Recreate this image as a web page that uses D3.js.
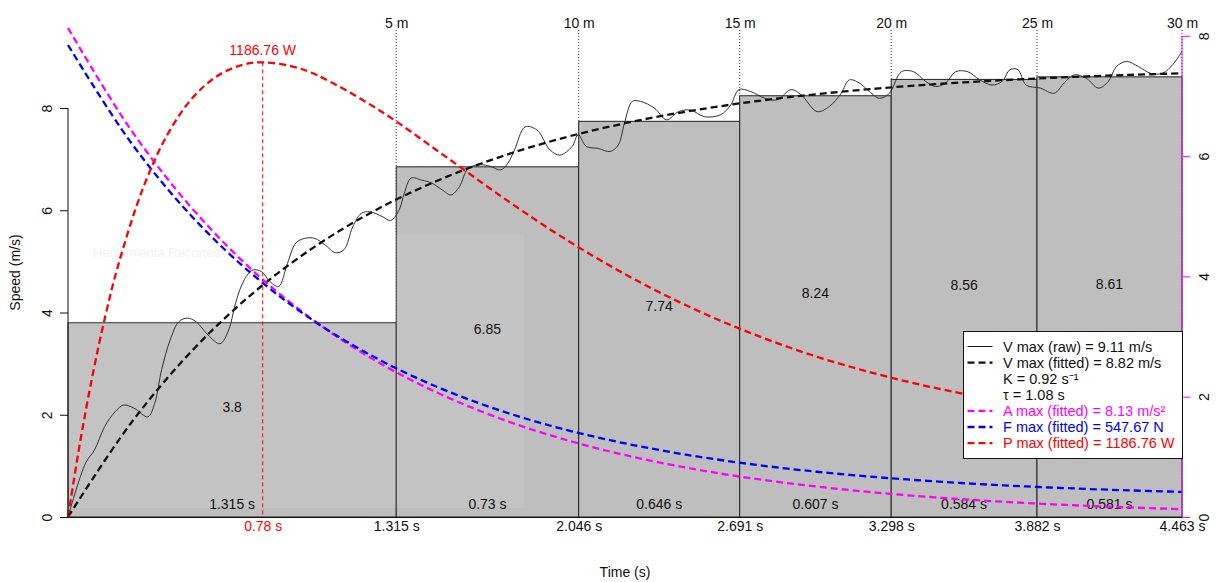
<!DOCTYPE html>
<html>
<head>
<meta charset="utf-8">
<script src="https://cdn.jsdelivr.net/npm/d3@7"></script>
<style>
  body { margin: 0; background: #fff; }
  svg { display: block; font-family: 'Liberation Sans', Arial, sans-serif; }
</style>
</head>
<body>
<script>
/*
 * Sprint profile: 5 m split bars, raw and fitted speed,
 * fitted acceleration, force and power.
 */

// split data (cumulative times at every 5 m)
const splitEnds = [1.315, 2.046, 2.691, 3.298, 3.882, 4.463];
const splitSpeeds = [3.8, 6.85, 7.74, 8.24, 8.56, 8.61];
const splitDurations = ['1.315 s', '0.73 s', '0.646 s', '0.607 s', '0.584 s', '0.581 s'];
const timeTickLabels = ['1.315 s', '2.046 s', '2.691 s', '3.298 s', '3.882 s', '4.463 s'];
const distanceLabels = ['5 m', '10 m', '15 m', '20 m', '25 m', '30 m'];
const speedTicks = [0, 2, 4, 6, 8];
const accelTicks = [0, 2, 4, 6, 8];

// raw speed trace
const rawTime = [0.000, 0.071, 0.106, 0.147, 0.189, 0.223, 0.264, 0.320, 0.347, 0.375,
  0.409, 0.444, 0.478, 0.513, 0.561, 0.609, 0.644, 0.671, 0.706, 0.740,
  0.775, 0.810, 0.844, 0.879, 0.913, 0.948, 0.989, 1.030, 1.072, 1.106,
  1.141, 1.175, 1.209, 1.258, 1.292, 1.327, 1.347, 1.375, 1.417, 1.458,
  1.499, 1.534, 1.568, 1.603, 1.651, 1.692, 1.734, 1.762, 1.789, 1.831,
  1.879, 1.931, 1.971, 2.020, 2.044, 2.076, 2.124, 2.172, 2.205, 2.229,
  2.261, 2.293, 2.349, 2.398, 2.446, 2.494, 2.550, 2.615, 2.655, 2.688,
  2.736, 2.792, 2.841, 2.897, 2.937, 3.001, 3.050, 3.098, 3.130, 3.170,
  3.211, 3.251, 3.291, 3.339, 3.388, 3.436, 3.476, 3.516, 3.556, 3.605,
  3.653, 3.702, 3.742, 3.774, 3.806, 3.838, 3.895, 3.951, 3.991, 4.032,
  4.080, 4.128, 4.168, 4.200, 4.241, 4.289, 4.337, 4.385, 4.426, 4.463];
const rawSpeed = [0.00, 1.06, 1.31, 1.77, 2.06, 2.19, 2.13, 1.96, 2.22, 2.88,
  3.46, 3.82, 3.89, 3.82, 3.56, 3.39, 3.66, 4.18, 4.64, 4.83,
  4.80, 4.60, 4.51, 4.96, 5.36, 5.45, 5.45, 5.32, 5.17, 5.23,
  5.68, 5.94, 5.97, 5.88, 5.80, 6.01, 6.33, 6.63, 6.59, 6.53,
  6.40, 6.30, 6.46, 6.82, 6.89, 6.86, 6.79, 6.92, 7.18, 7.63,
  7.57, 7.18, 7.08, 7.25, 7.48, 7.25, 7.21, 7.15, 7.28, 7.70,
  8.13, 8.13, 8.00, 7.77, 7.93, 7.96, 7.83, 7.87, 8.06, 8.36,
  8.32, 8.19, 8.16, 8.36, 8.26, 7.93, 8.03, 8.29, 8.55, 8.49,
  8.32, 8.19, 8.29, 8.71, 8.71, 8.52, 8.42, 8.49, 8.71, 8.71,
  8.55, 8.45, 8.52, 8.75, 8.75, 8.45, 8.39, 8.29, 8.49, 8.65,
  8.58, 8.39, 8.52, 8.81, 8.91, 8.81, 8.68, 8.68, 8.85, 9.11];

// fitted curves
const fitTime = [0, 0.25, 0.5, 0.75, 1.0, 1.25, 1.5, 1.75, 2.0, 2.25,
  2.5, 2.75, 3.0, 3.25, 3.5, 3.75, 4.0, 4.25, 4.463];
const fitSpeed = [0, 1.822, 3.269, 4.415, 5.325, 6.048, 6.620, 7.075, 7.436, 7.722,
  7.949, 8.129, 8.271, 8.385, 8.475, 8.546, 8.603, 8.648, 8.679];
const fitAccel = [8.13, 6.450, 5.117, 4.060, 3.221, 2.555, 2.028, 1.608, 1.276, 1.012,
  0.803, 0.637, 0.506, 0.401, 0.318, 0.253, 0.200, 0.159, 0.130];
const fitForce = [547.7, 435.4, 347.6, 278.8, 224.6, 182.0, 148.4, 121.8, 100.8, 84.3,
  71.2, 60.8, 52.5, 46.0, 40.8, 36.7, 33.5, 30.9, 29.1];
const powerTime = [0, 0.05, 0.1, 0.15, 0.2, 0.3, 0.4, 0.5, 0.6, 0.7, 0.78, 0.9, 1.0,
  1.25, 1.5, 1.75, 2.0, 2.25, 2.5, 2.75, 3.0, 3.25, 3.5, 3.75, 4.0, 4.25, 4.463];
const fitPower = [0, 200.9, 375.2, 525.7, 654.7, 857.5, 1000.0, 1094.7, 1151.8, 1180.4,
  1186.76, 1175.7, 1152.5, 1060.5, 946.6, 830.3, 722.2, 627.2, 545.3, 476.2, 418.4,
  371.6, 333.2, 302.2, 277.7, 257.5, 243.4];

const peakPowerTime = 0.78;
const peakPower = 1186.76;

const legendLabels = [
  'V max (raw) = 9.11 m/s',
  'V max (fitted) = 8.82 m/s',
  'K = 0.92 s\u207B\u00B9',
  '\u03C4 = 1.08 s',
  'A max (fitted) = 8.13 m/s\u00B2',
  'F max (fitted) = 547.67 N',
  'P max (fitted) = 1186.76 W'
];
const legendColors = ['#111', '#111', '#111', '#111', '#ff00ff', '#0000ff', '#ff0000'];
const legendLines = ['solid', 'dashed', null, null, 'dashed', 'dashed', 'dashed'];

/*
 * Layout
 */

const W = 1216;
const H = 582;
const plotLeft = 68;
const plotRight = 1182;
const plotTop = 28;
const plotBottom = 517;
const DASH = '7,4';

const x = d3.scaleLinear().domain([0, 4.463]).range([plotLeft, plotRight]);
const ySpeed = d3.scaleLinear().domain([0, 9.11 * 1.05]).range([plotBottom, plotTop]);
const yAccel = d3.scaleLinear().domain([0, 8.13]).range([plotBottom, plotTop]);
const yForce = d3.scaleLinear().domain([0, 567.4]).range([plotBottom, plotTop]);
const yPower = d3.scaleLinear().domain([0, 1276.3]).range([plotBottom, plotTop]);

const svg = d3.select('body')
  .append('svg')
    .attr('width', W)
    .attr('height', H)
    .attr('font-size', 14);

// dotted distance markers
svg.append('g')
  .selectAll('line')
  .data(splitEnds)
  .join('line')
    .attr('x1', d => x(d))
    .attr('x2', d => x(d))
    .attr('y1', 30)
    .attr('y2', plotBottom)
    .attr('stroke', '#333')
    .attr('stroke-dasharray', '1,2');

// split bars
const starts = [0, ...splitEnds.slice(0, -1)];
svg.append('g')
  .selectAll('rect')
  .data(splitSpeeds)
  .join('rect')
    .attr('x', (d, i) => x(starts[i]))
    .attr('y', d => ySpeed(d))
    .attr('width', (d, i) => x(splitEnds[i]) - x(starts[i]))
    .attr('height', d => ySpeed(0) - ySpeed(d))
    .attr('fill', '#bebebe')
    .attr('stroke', '#222');

// screenshot ghost (faint overlay left on the original)
svg.append('rect')
    .attr('x', 57).attr('y', 234)
    .attr('width', 467).attr('height', 274)
    .attr('fill', '#fff').attr('opacity', 0.08);
svg.append('text')
    .attr('x', 93).attr('y', 257)
    .attr('font-size', 13)
    .attr('fill', '#000').attr('opacity', 0.05)
    .text('Herramienta Recortes');

// bar labels
const barLabels = svg.append('g').attr('fill', '#111').attr('text-anchor', 'middle');
barLabels.selectAll('text.speed')
  .data(splitSpeeds)
  .join('text')
    .attr('class', 'speed')
    .attr('x', (d, i) => (x(starts[i]) + x(splitEnds[i])) / 2)
    .attr('y', d => ySpeed(d / 2) - 8)
    .text(d => String(d));
barLabels.selectAll('text.dur')
  .data(splitDurations)
  .join('text')
    .attr('class', 'dur')
    .attr('x', (d, i) => (x(starts[i]) + x(splitEnds[i])) / 2)
    .attr('y', 509)
    .text(d => d);

/*
 * Curves
 */

const curve = (ts, vs, yScale) => d3.line()
    .x(d => x(d[0]))
    .y(d => yScale(d[1]))
    .curve(d3.curveCatmullRom.alpha(0.5))(d3.zip(ts, vs));

svg.append('path')
    .attr('d', curve(rawTime, rawSpeed, ySpeed))
    .attr('fill', 'none')
    .attr('stroke', '#333')
    .attr('stroke-width', 1);

svg.append('path')
    .attr('d', curve(fitTime, fitSpeed, ySpeed))
    .attr('fill', 'none')
    .attr('stroke', '#111')
    .attr('stroke-width', 2.3)
    .attr('stroke-dasharray', DASH);

svg.append('path')
    .attr('d', curve(fitTime, fitAccel, yAccel))
    .attr('fill', 'none')
    .attr('stroke', '#ff00ff')
    .attr('stroke-width', 2.3)
    .attr('stroke-dasharray', DASH);

svg.append('path')
    .attr('d', curve(fitTime, fitForce, yForce))
    .attr('fill', 'none')
    .attr('stroke', '#0000ff')
    .attr('stroke-width', 2.3)
    .attr('stroke-dasharray', DASH);

svg.append('path')
    .attr('d', curve(powerTime, fitPower, yPower))
    .attr('fill', 'none')
    .attr('stroke', '#ff0000')
    .attr('stroke-width', 2.3)
    .attr('stroke-dasharray', DASH);

// peak power marker
svg.append('line')
    .attr('x1', x(peakPowerTime)).attr('x2', x(peakPowerTime))
    .attr('y1', yPower(peakPower)).attr('y2', plotBottom)
    .attr('stroke', '#ff0000')
    .attr('stroke-width', 1)
    .attr('stroke-dasharray', '4,3');
svg.append('text')
    .attr('x', x(peakPowerTime))
    .attr('y', 55)
    .attr('text-anchor', 'middle')
    .attr('fill', '#ff0000')
    .text(`${peakPower} W`);

/*
 * Axes
 */

// bottom time axis
svg.append('g')
    .attr('transform', `translate(0, ${plotBottom})`)
    .call(d3.axisBottom(x)
      .tickValues([peakPowerTime, ...splitEnds])
      .tickSize(0)
      .tickPadding(4)
      .tickFormat((d, i) => i === 0 ? `${peakPowerTime} s` : timeTickLabels[i - 1]))
    .attr('font-size', null)
    .attr('font-family', null)
    .call(g => g.select('.domain').attr('stroke', '#111'))
    .call(g => g.selectAll('.tick text')
      .attr('fill', (d, i) => i === 0 ? '#ff0000' : '#111'));

// top distance axis
svg.append('g')
    .attr('transform', `translate(0, ${plotTop})`)
    .call(d3.axisTop(x)
      .tickValues(splitEnds)
      .tickSize(0)
      .tickPadding(0)
      .tickFormat((d, i) => distanceLabels[i]))
    .attr('font-size', null)
    .attr('font-family', null)
    .call(g => g.select('.domain').remove())
    .call(g => g.selectAll('.tick text').attr('fill', '#111'));

// left speed axis
svg.append('g')
    .attr('transform', `translate(${plotLeft}, 0)`)
    .call(d3.axisLeft(ySpeed).tickValues(speedTicks).tickSize(8).tickSizeOuter(0))
    .attr('font-size', null)
    .attr('font-family', null)
    .call(g => g.select('.domain')
      .attr('d', `M0,${ySpeed(8)}V${ySpeed(0)}`)
      .attr('stroke', '#111'))
    .call(g => g.selectAll('.tick line').attr('stroke', '#111'))
    .call(g => g.selectAll('.tick text')
      .attr('transform', 'rotate(-90)')
      .attr('x', 0).attr('y', -16).attr('dy', 0)
      .attr('text-anchor', 'middle')
      .attr('fill', '#111'));

// right acceleration axis
svg.append('g')
    .attr('transform', `translate(${plotRight}, 0)`)
    .call(d3.axisRight(yAccel).tickValues(accelTicks).tickSize(8).tickSizeOuter(0))
    .attr('font-size', null)
    .attr('font-family', null)
    .call(g => g.select('.domain')
      .attr('d', `M0,${yAccel(8)}V${yAccel(0)}`)
      .attr('stroke', '#ff00ff'))
    .call(g => g.selectAll('.tick line').attr('stroke', '#ff00ff'))
    .call(g => g.selectAll('.tick text')
      .attr('transform', 'rotate(-90)')
      .attr('x', 0).attr('y', 27).attr('dy', 0)
      .attr('text-anchor', 'middle')
      .attr('fill', '#111'));

// axis titles
svg.append('text')
    .attr('transform', `translate(20, ${(plotTop + plotBottom) / 2}) rotate(-90)`)
    .attr('text-anchor', 'middle')
    .attr('fill', '#111')
    .text('Speed (m/s)');
svg.append('text')
    .attr('x', (plotLeft + plotRight) / 2)
    .attr('y', 577)
    .attr('text-anchor', 'middle')
    .attr('fill', '#111')
    .text('Time (s)');

/*
 * Legend
 */

const legend = svg.append('g').attr('transform', 'translate(963.5, 331.5)');
legend.append('rect')
    .attr('width', 219)
    .attr('height', 127)
    .attr('fill', '#fff')
    .attr('stroke', '#111');

const rows = legend.selectAll('g.row')
  .data(legendLabels)
  .join('g')
    .attr('class', 'row')
    .attr('transform', (d, i) => `translate(0, ${15 + i * 16.1})`);

rows.filter((d, i) => legendLines[i] !== null)
  .append('line')
    .attr('x1', 4).attr('x2', 29)
    .attr('stroke', d => legendColors[legendLabels.indexOf(d)])
    .attr('stroke-width', d => legendLines[legendLabels.indexOf(d)] === 'solid' ? 1 : 2.3)
    .attr('stroke-dasharray', d => legendLines[legendLabels.indexOf(d)] === 'solid' ? null : DASH);

rows.append('text')
    .attr('x', 39.5)
    .attr('y', 5)
    .attr('font-size', 14.5)
    .attr('fill', (d, i) => legendColors[i])
    .text(d => d);
</script>
</body>
</html>
